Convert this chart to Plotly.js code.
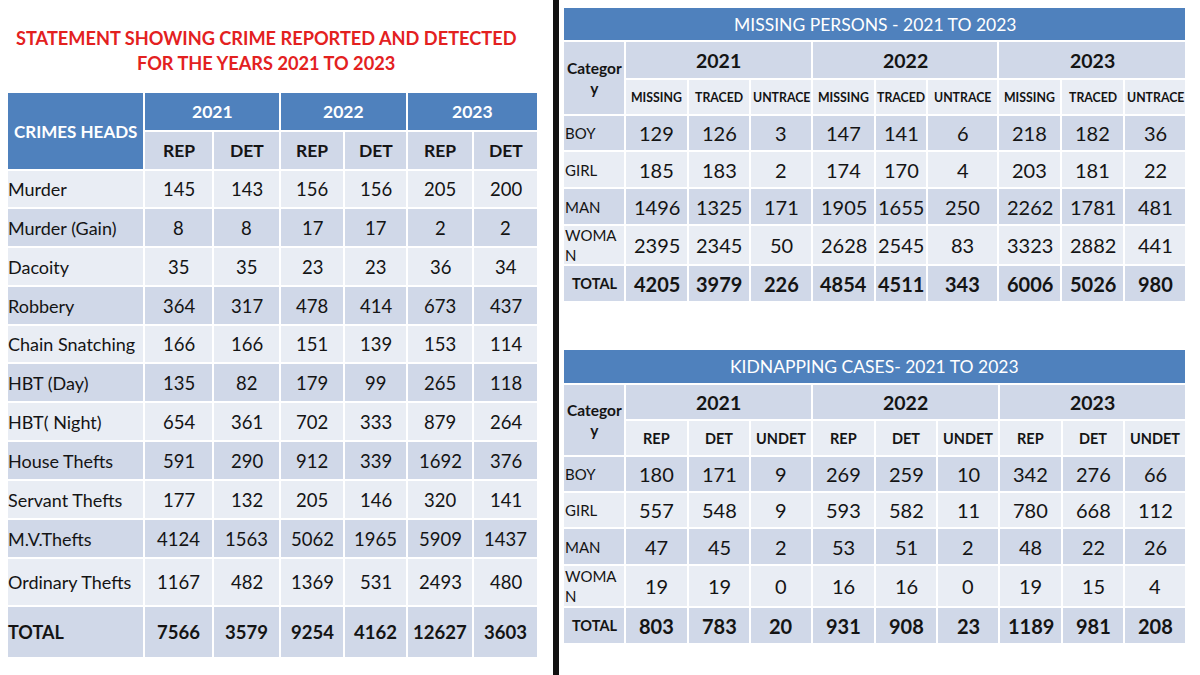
<!DOCTYPE html>
<html>
<head>
<meta charset="utf-8">
<script src="https://cdn.plot.ly/plotly-3.0.1.min.js"></script>
<style>html,body{margin:0;padding:0;background:#fff;}#chart{width:1200px;height:675px;}</style>
</head>
<body>
<div id="chart"></div>
<script>
// ---------------- DATA ----------------
const crimeTitle1 = 'STATEMENT SHOWING CRIME REPORTED AND DETECTED';
const crimeTitle2 = 'FOR THE YEARS 2021 TO 2023';
const crimeHeadLabel = 'CRIMES HEADS';
const years = ['2021', '2022', '2023'];
const crimeSubHeads = ['REP', 'DET'];
const crimeHeads = ['Murder', 'Murder (Gain)', 'Dacoity', 'Robbery', 'Chain Snatching', 'HBT (Day)',
  'HBT( Night)', 'House Thefts', 'Servant Thefts', 'M.V.Thefts', 'Ordinary Thefts'];
const crimeRep2021 = [145, 8, 35, 364, 166, 135, 654, 591, 177, 4124, 1167];
const crimeDet2021 = [143, 8, 35, 317, 166, 82, 361, 290, 132, 1563, 482];
const crimeRep2022 = [156, 17, 23, 478, 151, 179, 702, 912, 205, 5062, 1369];
const crimeDet2022 = [156, 17, 23, 414, 139, 99, 333, 339, 146, 1965, 531];
const crimeRep2023 = [205, 2, 36, 673, 153, 265, 879, 1692, 320, 5909, 2493];
const crimeDet2023 = [200, 2, 34, 437, 114, 118, 264, 376, 141, 1437, 480];
const crimeTotalLabel = 'TOTAL';
const crimeTotals = [7566, 3579, 9254, 4162, 12627, 3603];

const categoryLabel = 'Category';
const personCats = ['BOY', 'GIRL', 'MAN', 'WOMAN'];
const totalLabel = 'TOTAL';

const missingTitle = 'MISSING PERSONS - 2021 TO 2023';
const missingSubHeads = ['MISSING', 'TRACED', 'UNTRACE'];
const missing2021 = [129, 185, 1496, 2395];
const traced2021 = [126, 183, 1325, 2345];
const untraced2021 = [3, 2, 171, 50];
const missing2022 = [147, 174, 1905, 2628];
const traced2022 = [141, 170, 1655, 2545];
const untraced2022 = [6, 4, 250, 83];
const missing2023 = [218, 203, 2262, 3323];
const traced2023 = [182, 181, 1781, 2882];
const untraced2023 = [36, 22, 481, 441];
const missingTotals = [4205, 3979, 226, 4854, 4511, 343, 6006, 5026, 980];

const kidTitle = 'KIDNAPPING CASES- 2021 TO 2023';
const kidSubHeads = ['REP', 'DET', 'UNDET'];
const kidRep2021 = [180, 557, 47, 19];
const kidDet2021 = [171, 548, 45, 19];
const kidUndet2021 = [9, 9, 2, 0];
const kidRep2022 = [269, 593, 53, 16];
const kidDet2022 = [259, 582, 51, 16];
const kidUndet2022 = [10, 11, 2, 0];
const kidRep2023 = [342, 780, 48, 19];
const kidDet2023 = [276, 668, 22, 15];
const kidUndet2023 = [66, 112, 26, 4];
const kidTotals = [803, 783, 20, 931, 908, 23, 1189, 981, 208];

// ---------------- STYLE / LAYOUT ----------------
const FONT = 'Lato, "Open Sans", sans-serif';
const BLUE = '#4f81bd', DARK = '#d0d8e8', LIGHT = '#e9edf4', INK = '#141414';
const shapes = [], annotations = [];

function cell(x0, x1, y0, y1, fill) {
  shapes.push({type: 'rect', xref: 'x', yref: 'y', x0: x0, x1: x1, y0: y0, y1: y1,
    fillcolor: fill, line: {color: '#ffffff', width: 2}, layer: 'below'});
}
function label(x, y, text, size, opts) {
  opts = opts || {};
  annotations.push({xref: 'x', yref: 'y', x: x, y: y, text: text, showarrow: false,
    xanchor: opts.anchor || 'center', yanchor: 'middle', align: opts.align || 'center',
    font: {family: FONT, size: size, color: opts.color || INK, weight: opts.bold ? 'bold' : 'normal'}});
}
function wrap(s, n) { return s.length > n ? s.slice(0, n) + '<br>' + s.slice(n) : s; }

// ---- Left table ----
const L_COLS = [7, 144, 213, 280, 344, 407, 473, 538];
const L_HEAD = [92, 131, 170];
const L_ROWS = [170, 208, 247, 286, 325, 363, 402, 441, 480, 519, 558, 606, 658];
label(266, 38, crimeTitle1, 18.2, {bold: true, color: '#e3211f'});
label(266, 63, crimeTitle2, 18.2, {bold: true, color: '#e3211f'});
cell(L_COLS[0], L_COLS[1], L_HEAD[0], L_HEAD[2], BLUE);
label((L_COLS[0] + L_COLS[1]) / 2, (L_HEAD[0] + L_HEAD[2]) / 2, crimeHeadLabel, 17, {bold: true, color: '#fff'});
years.forEach((yr, i) => {
  const a = L_COLS[1 + 2 * i], b = L_COLS[3 + 2 * i];
  cell(a, b, L_HEAD[0], L_HEAD[1], BLUE);
  label((a + b) / 2, (L_HEAD[0] + L_HEAD[1]) / 2, yr, 17.5, {bold: true, color: '#fff'});
  crimeSubHeads.forEach((s, j) => {
    const c0 = L_COLS[1 + 2 * i + j], c1 = L_COLS[2 + 2 * i + j];
    cell(c0, c1, L_HEAD[1], L_HEAD[2], DARK);
    label((c0 + c1) / 2, (L_HEAD[1] + L_HEAD[2]) / 2, s, 17.5, {bold: true});
  });
});
const crimeCols = [crimeRep2021, crimeDet2021, crimeRep2022, crimeDet2022, crimeRep2023, crimeDet2023];
const crimeRowsAll = crimeHeads.concat([crimeTotalLabel]);
crimeRowsAll.forEach((name, r) => {
  const y0 = L_ROWS[r], y1 = L_ROWS[r + 1], ym = (y0 + y1) / 2;
  const isTotal = r === crimeHeads.length;
  const fill = r % 2 === 0 ? LIGHT : DARK;
  cell(L_COLS[0], L_COLS[1], y0, y1, fill);
  label(L_COLS[0] - 1, ym, name, 18, {anchor: 'left', bold: isTotal});
  crimeCols.forEach((col, c) => {
    const v = isTotal ? crimeTotals[c] : col[r];
    cell(L_COLS[1 + c], L_COLS[2 + c], y0, y1, fill);
    label((L_COLS[1 + c] + L_COLS[2 + c]) / 2, ym, String(v), 18.5, {bold: isTotal});
  });
});

// ---- Divider ----
shapes.push({type: 'rect', xref: 'x', yref: 'y', x0: 553, x1: 559, y0: 0, y1: 675,
  fillcolor: '#111', line: {width: 0}, layer: 'below'});

// ---- Right tables ----
function rightTable(cols, titleRow, yearRow, subRow, rows, title, subHeads, series, totals, subSize) {
  cell(cols[0], cols[10], titleRow[0], titleRow[1], BLUE);
  label((cols[0] + cols[10]) / 2, (titleRow[0] + titleRow[1]) / 2, title, 17.5, {color: '#fff'});
  cell(cols[0], cols[1], yearRow, subRow[1], DARK);
  label((cols[0] + cols[1]) / 2, (yearRow + subRow[1]) / 2, wrap(categoryLabel, 7), 15.5, {bold: true});
  years.forEach((yr, i) => {
    const a = cols[1 + 3 * i], b = cols[4 + 3 * i];
    cell(a, b, yearRow, subRow[0], DARK);
    label((a + b) / 2, (yearRow + subRow[0]) / 2, yr, 19.5, {bold: true});
    subHeads.forEach((s, j) => {
      const c0 = cols[1 + 3 * i + j], c1 = cols[2 + 3 * i + j];
      cell(c0, c1, subRow[0], subRow[1], LIGHT);
      label((c0 + c1) / 2, (subRow[0] + subRow[1]) / 2, s, subSize, {bold: true});
    });
  });
  const allRows = personCats.concat([totalLabel]);
  allRows.forEach((name, r) => {
    const y0 = rows[r], y1 = rows[r + 1], ym = (y0 + y1) / 2;
    const isTotal = r === personCats.length;
    const fill = r % 2 === 0 ? DARK : LIGHT;
    cell(cols[0], cols[1], y0, y1, fill);
    if (isTotal) label((cols[0] + cols[1]) / 2, ym, name, 14.5, {bold: true});
    else label(cols[0] + 0, ym, wrap(name, 4), 15, {anchor: 'left', align: 'left'});
    series.forEach((s, c) => {
      const v = isTotal ? totals[c] : s[r];
      cell(cols[1 + c], cols[2 + c], y0, y1, fill);
      label((cols[1 + c] + cols[2 + c]) / 2, ym, String(v), 20, {bold: isTotal});
    });
  });
}
rightTable([563, 625, 688, 750, 812, 875, 927, 998, 1061, 1124, 1186], [7, 41], 41, [79, 115],
  [115, 151, 188, 225, 265, 302], missingTitle, missingSubHeads,
  [missing2021, traced2021, untraced2021, missing2022, traced2022, untraced2022, missing2023, traced2023, untraced2023],
  missingTotals, 12.3);
rightTable([563, 625, 688, 750, 812, 875, 937, 999, 1062, 1124, 1186], [349, 384], 384, [420, 456],
  [456, 492, 528, 565, 607, 644], kidTitle, kidSubHeads,
  [kidRep2021, kidDet2021, kidUndet2021, kidRep2022, kidDet2022, kidUndet2022, kidRep2023, kidDet2023, kidUndet2023],
  kidTotals, 14.5);

const layout = {
  width: 1200, height: 675, margin: {l: 0, r: 0, t: 0, b: 0},
  paper_bgcolor: '#ffffff', plot_bgcolor: '#ffffff', showlegend: false,
  xaxis: {range: [0, 1200], visible: false, fixedrange: true},
  yaxis: {range: [675, 0], visible: false, fixedrange: true},
  shapes: shapes, annotations: annotations
};
Plotly.newPlot('chart', [{type: 'scatter', x: [], y: [], hoverinfo: 'skip'}], layout, {staticPlot: true});
</script>
</body>
</html>
